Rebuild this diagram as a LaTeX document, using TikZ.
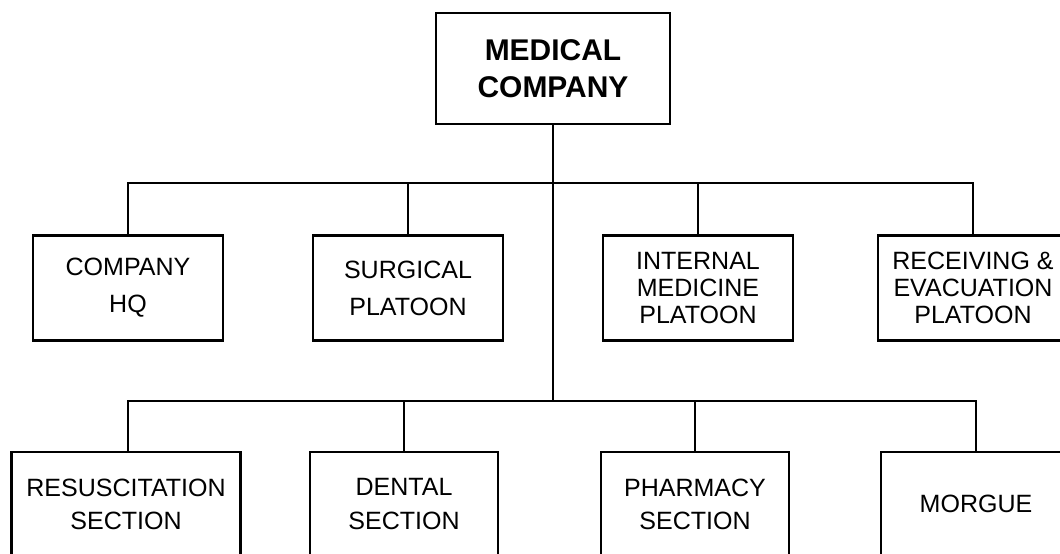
\documentclass[tikz,border=0pt]{standalone}
\usepackage{fontspec}
\setmainfont{Liberation Sans}

\begin{document}
\begin{tikzpicture}[
  line width=2pt,
  every node/.style={align=center},
  base/.style   = {draw, inner sep=2pt, font=\fontsize{17.8}{26.3}\selectfont},
  topnd/.style  = {base, minimum width=5.85cm, minimum height=2.775cm,
                   font=\fontsize{21.3}{26.3}\selectfont\bfseries},
  pltnd/.style  = {base, minimum width=4.75cm, minimum height=2.625cm},
  tightnd/.style = {pltnd, font=\fontsize{17.8}{19.2}\selectfont},
  secnd/.style  = {base, minimum width=4.7cm, minimum height=2.6cm,
                   font=\fontsize{17.8}{23.5}\selectfont}
]
\useasboundingbox (0,0) rectangle (26.5,13.825);

%% ===== Company =====
\node[topnd] (medco) at (13.825, 12.11) {MEDICAL\\COMPANY};

%% ===== Platoons =====
\node[pltnd]   (hq)   at ( 3.200, 6.625) {COMPANY\\HQ};
\node[pltnd]   (surg) at (10.200, 6.625) {SURGICAL\\PLATOON};
\node[tightnd] (intm) at (17.450, 6.625) {INTERNAL\\MEDICINE\\PLATOON};
\node[tightnd] (recv) at (24.325, 6.625) {RECEIVING \&\\EVACUATION\\PLATOON};

%% ===== Sections =====
\node[secnd, minimum width=5.725cm] (resus) at ( 3.150, 1.225) {RESUSCITATION\\SECTION};
\node[secnd] (dent)  at (10.100, 1.225) {DENTAL\\SECTION};
\node[secnd] (pharm) at (17.375, 1.225) {PHARMACY\\SECTION};
\node[secnd, minimum width=4.75cm] (morg) at (24.400, 1.225) {MORGUE};

\coordinate (bus1) at (13.825, 9.25);
\coordinate (bus2) at (13.825, 3.80);

\draw (medco.south) -- (bus2);
\draw (hq.north) |- (bus1);
\draw (recv.north) |- (bus1);
\draw (surg.north) -- (surg.north |- bus1);
\draw (intm.north) -- (intm.north |- bus1);
\draw (resus.north -| 3.2,0) |- (bus2);
\draw (morg.north) |- (bus2);
\draw (dent.north) -- (dent.north |- bus2);
\draw (pharm.north) -- (pharm.north |- bus2);

\end{tikzpicture}
\end{document}
